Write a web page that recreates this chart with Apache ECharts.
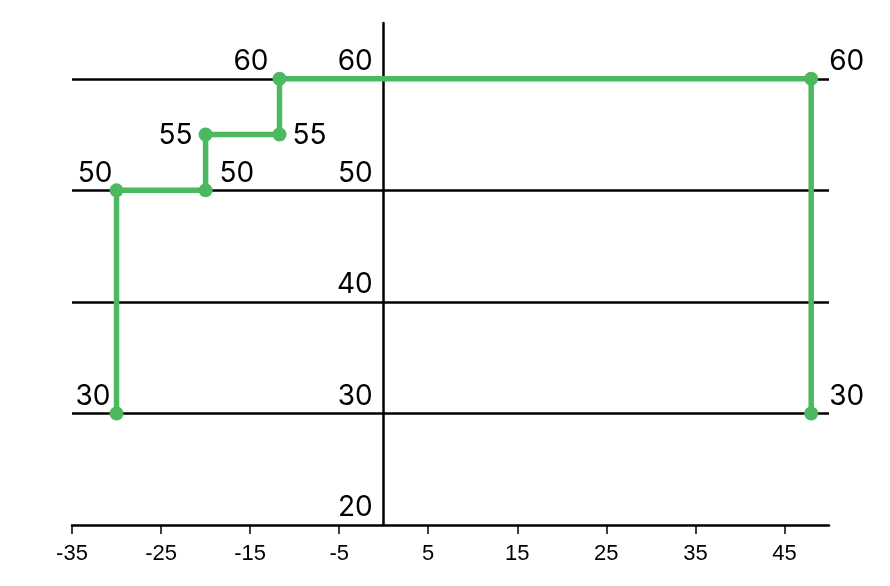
<!DOCTYPE html>
<html>
  <head>
    <meta charset="UTF-8" />
    <title>Step line</title>
    <script src="https://cdn.jsdelivr.net/npm/echarts@6/dist/echarts.min.js"></script>
    <style>
      html, body { margin: 0; padding: 0; background: #fff; }
      #main { width: 890px; height: 586px; }
    </style>
  </head>
  <body>
    <div id="main"></div>
    <script type="text/javascript">
      // data
      var pointX = [-30, -30, -20, -20, -11.7, -11.7, 48, 48];
      var pointY = [30, 50, 50, 55, 55, 60, 60, 30];
      var xTicks = [-35, -25, -15, -5, 5, 15, 25, 35, 45];
      var yTicks = [20, 30, 40, 50, 60];
      var gridLines = [30, 40, 50, 60];

      // label placement for each point (layout only)
      var labelAlign = ["right", "right", "left", "right", "left", "right", "left", "left"];
      var labelVAlign = ["bottom", "bottom", "bottom", "middle", "middle", "bottom", "bottom", "bottom"];
      var labelOffset = [[-6, -3], [-4, -3], [14, -3], [-13, 1], [13, 1], [-11, -3], [18, -3], [18, -3]];

      var green = "#4cb860";
      var numFont = "Inter, 'Noto Sans', sans-serif";
      var gridLeft = 72;

      var points = pointX.map(function (x, i) {
        return {
          value: [x, pointY[i]],
          label: {
            show: true,
            position: "inside",
            align: labelAlign[i],
            verticalAlign: labelVAlign[i],
            offset: labelOffset[i],
          },
        };
      });

      var chart = echarts.init(document.getElementById("main"));
      chart.setOption({
        animation: false,
        grid: { left: gridLeft, right: 61, top: 23, bottom: 61 },
        xAxis: {
          type: "value",
          min: -35,
          max: 50,
          axisLine: { lineStyle: { color: "#000", width: 2.5 } },
          axisTick: {
            show: true,
            length: 9,
            customValues: xTicks,
            lineStyle: { color: "#000", width: 1.5 },
          },
          axisLabel: {
            customValues: xTicks,
            margin: 18,
            color: "#000",
            fontSize: 22,
            fontFamily: "'Liberation Sans', Arial, sans-serif",
          },
          splitLine: { show: false },
        },
        yAxis: {
          type: "value",
          min: 20,
          max: 65,
          offset: 0,
          axisLine: { show: true, onZero: false, lineStyle: { color: "#000", width: 2.5 } },
          axisTick: { show: false },
          axisLabel: {
            customValues: yTicks,
            margin: 11,
            verticalAlign: "bottom",
            color: "#000",
            fontSize: 28,
            fontFamily: numFont,
            padding: [0, 0, 3, 0],
          },
          splitLine: { show: false },
        },
        series: [
          {
            type: "line",
            z: 1,
            data: [],
            markLine: {
              silent: true,
              symbol: "none",
              label: { show: false },
              lineStyle: { color: "#000", width: 2.5, type: "solid" },
              data: gridLines.map(function (v) {
                return { yAxis: v };
              }),
            },
          },
          {
            type: "line",
            z: 5,
            data: points,
            symbol: "circle",
            symbolSize: 14,
            itemStyle: { color: green },
            lineStyle: { color: green, width: 5.5 },
            label: {
              color: "#000",
              fontSize: 28,
              fontFamily: numFont,
              formatter: function (p) {
                return p.value[1];
              },
            },
          },
        ],
      });

      // move the y axis (line and labels) to x = 0
      var zeroX = chart.convertToPixel({ xAxisIndex: 0 }, 0);
      chart.setOption({ yAxis: { offset: gridLeft - zeroX } });
    </script>
  </body>
</html>
